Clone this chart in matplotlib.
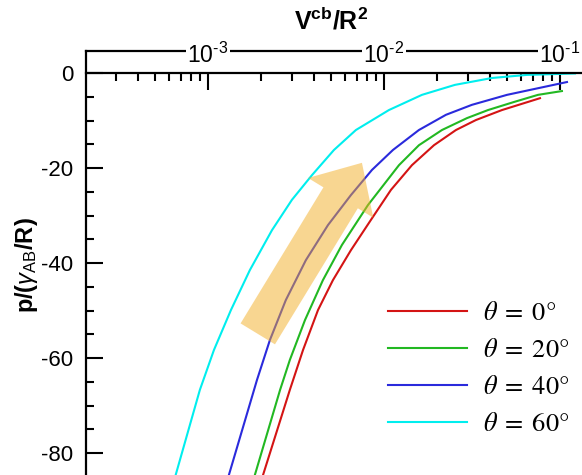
import matplotlib
matplotlib.use('Agg')
import matplotlib.pyplot as plt
from matplotlib.patches import FancyArrowPatch, ArrowStyle
from matplotlib.font_manager import FontProperties
from matplotlib.ticker import LogLocator, MultipleLocator, NullFormatter

plt.rcParams['font.family'] = 'Liberation Sans'
plt.rcParams['axes.unicode_minus'] = False
plt.rcParams['mathtext.fontset'] = 'custom'
plt.rcParams['mathtext.rm'] = 'Liberation Sans'
plt.rcParams['mathtext.it'] = 'Liberation Sans:italic'
plt.rcParams['mathtext.bf'] = 'Liberation Sans:bold'

# pressure curves p/(gamma_AB/R) against V^cb/R^2, one per angle
x_0 = [1.974e-3, 2.92e-3, 3.47e-3, 4.22e-3, 5.13e-3, 6.49e-3, 8.44e-3, 1.096e-2,
       1.442e-2, 1.923e-2, 2.565e-2, 3.33e-2, 4.68e-2, 7.70e-2]
p_0 = [-86.7, -66.7, -58.3, -49.9, -43.6, -37.3, -30.9, -24.6,
       -19.4, -15.2, -12.0, -9.9, -7.8, -5.3]

x_20 = [1.778e-3, 2.57e-3, 2.92e-3, 3.56e-3, 4.50e-3, 5.77e-3, 8.11e-3, 1.217e-2,
        1.58e-2, 2.136e-2, 2.96e-2, 3.90e-2, 5.48e-2, 7.50e-2, 0.1026]
p_20 = [-86.7, -66.7, -60.4, -52.0, -43.6, -36.2, -27.8, -19.4,
        -15.2, -12.0, -9.5, -7.8, -6.1, -4.6, -3.8]

x_40 = [1.266e-3, 1.90e-3, 2.25e-3, 2.77e-3, 3.60e-3, 4.81e-3, 6.49e-3, 8.55e-3,
        1.125e-2, 1.58e-2, 2.25e-2, 3.16e-2, 5.0e-2, 0.1096]
p_40 = [-86.7, -64.6, -56.2, -47.8, -39.4, -32.0, -25.7, -20.4,
        -16.2, -12.0, -8.8, -6.7, -4.6, -1.9]

x_60 = [6.32e-4, 9.0e-4, 1.082e-3, 1.351e-3, 1.73e-3, 2.31e-3, 3.0e-3, 3.90e-3,
        5.20e-3, 6.93e-3, 1.067e-2, 1.644e-2, 2.53e-2, 4.11e-2, 6.49e-2, 0.1217]
p_60 = [-86.7, -66.7, -58.3, -49.9, -41.5, -33.1, -26.7, -21.5,
        -16.2, -12.0, -7.8, -4.6, -2.5, -1.05, -0.4, -0.1]

labels = [r'$\theta\;=\;0$°', r'$\theta\;=\;20$°',
          r'$\theta\;=\;40$°', r'$\theta\;=\;60$°']
colors = ['#D41414', '#22B822', '#2A2ADC', '#00EEEE']

# arrow showing the trend with increasing angle
arrow_tail = (1.92e-3, -54.9)
arrow_tip = (7.5e-3, -18.9)

fig = plt.figure(figsize=(5.82, 4.75), dpi=100)
ax = fig.add_axes([86 / 582, 0.0, 1 - 86 / 582, 1 - 51 / 475])

for xs, ps, c, lab in zip([x_0, x_20, x_40, x_60], [p_0, p_20, p_40, p_60], colors, labels):
    ax.plot(xs, ps, color=c, lw=1.5, label=lab)

ax.set_xscale('log')
ax.set_xlim(2.03e-4, 0.1334)
ax.set_ylim(-84.6, 4.63)

# x axis sits on p = 0, ticks hang below it
ax.spines['bottom'].set_position(('data', 0))
ax.spines['right'].set_visible(False)
for s in ['bottom', 'top', 'left']:
    ax.spines[s].set_linewidth(1.6)

ax.xaxis.set_major_locator(LogLocator(base=10, numticks=10))
ax.xaxis.set_minor_locator(LogLocator(base=10, subs=range(2, 10), numticks=20))
ax.xaxis.set_minor_formatter(NullFormatter())
ax.tick_params(axis='x', which='both', direction='out', bottom=True, top=False,
               labelbottom=False, labeltop=False, width=1.5)
ax.tick_params(axis='x', which='major', length=12)
ax.tick_params(axis='x', which='minor', length=6)

ax.yaxis.set_major_locator(MultipleLocator(20))
ax.yaxis.set_minor_locator(MultipleLocator(5))
ax.tick_params(axis='y', which='both', direction='in', left=True, right=False,
               width=1.5, labelsize=16, pad=9)
ax.tick_params(axis='y', which='major', length=12)
ax.tick_params(axis='y', which='minor', length=6)
ax.set_yticks([-80, -60, -40, -20, 0])

# decade labels drawn on the top frame line
for k in [-3, -2, -1]:
    ax.annotate(r'$10^{\text{-}%d}$' % (-k), xy=(10.0 ** k, 1.0),
                xycoords=('data', 'axes fraction'), xytext=(0, -8.5),
                textcoords='offset points', ha='center', va='baseline',
                fontsize=16.5, annotation_clip=False,
                bbox=dict(boxstyle='square,pad=0.08', fc='white', ec='none'))

fig.text(331 / 582, 1 - 30 / 475, r'$\mathbf{V^{cb}/R^{2}}$', ha='center',
         va='baseline', fontsize=18)
fig.text(27 / 582, 1 - 265 / 475, r'$\mathbf{p/(}\gamma_{\mathrm{AB}}\mathbf{/R)}$',
         rotation=90, ha='center', va='center', fontsize=17)

arrow = FancyArrowPatch(arrow_tail, arrow_tip, transform=ax.transData,
                        arrowstyle=ArrowStyle.Simple(head_length=29.5, head_width=55,
                                                     tail_width=29),
                        mutation_scale=1, shrinkA=0, shrinkB=0,
                        fc='#F3AE25', ec='none', alpha=0.5, zorder=5)
ax.add_patch(arrow)

leg_font = FontProperties(family='STIXGeneral', size=19, math_fontfamily='stix')
ax.legend(loc='upper left', bbox_to_anchor=(388 / 582, 1 - 302 / 475),
          bbox_transform=fig.transFigure, frameon=False, prop=leg_font,
          handlelength=3.0, handletextpad=0.6, labelspacing=0.47,
          borderpad=0, borderaxespad=0)

fig.savefig('out.png', dpi=100)
